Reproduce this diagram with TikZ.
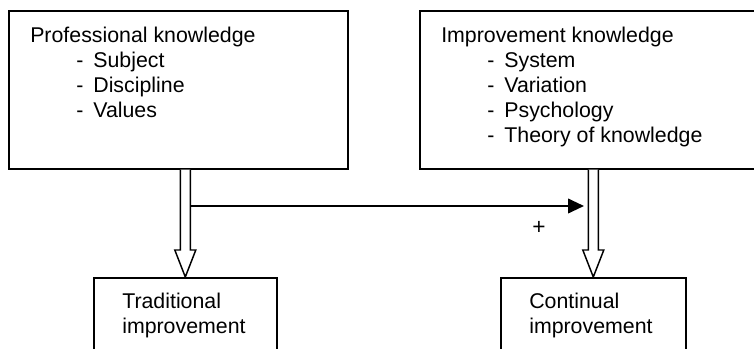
\documentclass[tikz,border=0pt]{standalone}
\usepackage{fontspec}
\setmainfont{Liberation Sans}
\usepackage{tikz}
\usetikzlibrary{calc,arrows.meta,positioning}
% indented list entry
\newcommand{\kpoint}[1]{\hspace*{34.5pt}-\hspace{7.5pt}#1}
% open block arrow from #1 down to #2
\newcommand{\hollowarrow}[2]{%
  \draw[line width=1.1pt, fill=white, line join=miter]
    ($(#1)+(-5,0)$) -- ($(#2)+(-5,27)$) -- ($(#2)+(-10.5,27)$) -- (#2)
    -- ($(#2)+(10.5,27)$) -- ($(#2)+(5,27)$) -- ($(#1)+(5,0)$);}

\begin{document}
\begin{tikzpicture}[x=0.75pt, y=0.75pt,
  kbox/.style={draw, line width=1.2pt, anchor=north west, inner sep=0pt},
  ktext/.style={anchor=north west, inner sep=0pt, align=left,
    font=\fontsize{16pt}{18.75pt}\selectfont}]
  \useasboundingbox (0,0) rectangle (754,349);
  % Knowledge boxes
  \node[kbox, minimum width=254.25pt, minimum height=118.5pt] (prof) at (8,339) {};
  \node[kbox, minimum width=258.75pt, minimum height=118.5pt] (impr) at (419,339) {};
  \node[ktext, below right=12.75pt and 16.5pt of prof.north west] (proftext)
    {Professional knowledge\\\kpoint{Subject}\\\kpoint{Discipline}\\\kpoint{Values}};
  \node[ktext, below right=12.75pt and 16.5pt of impr.north west] (imprtext)
    {Improvement knowledge\\\kpoint{System}\\\kpoint{Variation}\\\kpoint{Psychology}\\\kpoint{Theory of knowledge}};
  % Improvement boxes
  \node[kbox, minimum width=137.25pt, minimum height=67.5pt] (trad) at (93,72) {};
  \node[kbox, minimum width=138.75pt, minimum height=67.5pt] (cont) at (500,72) {};
  \node[ktext, below right=12pt and 21.75pt of trad.north west] (tradtext)
    {Traditional\\improvement};
  \node[ktext, below right=12pt and 21.75pt of cont.north west] (conttext)
    {Continual\\improvement};
  % Cross link
  \coordinate (tap) at (189,143);
  \coordinate (join) at (584,143);
  \draw[line width=1.4pt, -{Triangle[length=12pt, width=11pt]}] (tap) -- (join);
  \node[font=\fontsize{17pt}{17pt}\selectfont, inner sep=0pt] (plus) at (539,121) {+};
  % Block arrows
  \hollowarrow{trad.north |- prof.south}{trad.north}
  \hollowarrow{cont.north |- impr.south}{cont.north}
\end{tikzpicture}
\end{document}
